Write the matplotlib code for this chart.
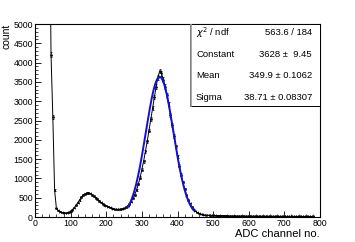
import numpy as np
import matplotlib.pyplot as plt
from matplotlib.patches import Rectangle

plt.rcParams['font.family'] = ['Liberation Sans', 'DejaVu Sans']

# histogram bin centres (ADC channel) and counts
channels = list(range(40, 805, 5))
counts = [
    9000, 4200, 2600, 700, 230, 170, 140, 120, 110, 105,
    110, 125, 150, 190, 240, 300, 370, 440, 510, 560,
    600, 620, 630, 610, 580, 540, 500, 460, 420, 380,
    340, 310, 290, 270, 250, 230, 215, 205, 200, 200,
    205, 215, 230, 255, 290, 340, 400, 480, 580, 700,
    850, 1020, 1230, 1450, 1700, 1960, 2240, 2530, 2820, 3100,
    3380, 3620, 3780, 3720, 3560, 3380, 3150, 2920, 2650, 2380,
    2100, 1830, 1570, 1330, 1100, 900, 730, 580, 450, 350,
    270, 200, 155, 120, 95, 78, 65, 56, 50, 46,
    44, 42, 40, 39, 38, 37, 36, 35, 35, 34,
    33, 33, 32, 31, 31, 30, 30, 29, 28, 28,
    27, 27, 26, 26, 25, 25, 24, 24, 23, 23,
    22, 22, 22, 21, 21, 20, 20, 20, 19, 19,
    19, 18, 18, 18, 17, 17, 17, 16, 16, 16,
    16, 15, 15, 15, 15, 14, 14, 14, 14,
]
channels = channels[:len(counts)]

# gaussian fit result
fit_const = 3628.0
fit_mean = 349.9
fit_sigma = 38.71
fit_range = (260, 445)

stat_names = ["$\\chi^{2}$ / ndf", "Constant", "Mean", "Sigma"]
stat_values = ["563.6 / 184", "3628 \u00b1  9.45", "349.9 \u00b1 0.1062", "38.71 \u00b1 0.08307"]

x = np.array(channels, dtype=float)
y = np.array(counts, dtype=float)

fig = plt.figure(figsize=(3.55, 2.42), dpi=100)
ax = fig.add_axes([0.0986, 0.1033, 0.8028, 0.7975])

ax.plot(x, y, color='black', lw=0.7)
ax.errorbar(x, y, yerr=np.sqrt(y), xerr=2.5, fmt='none', ecolor='black',
            elinewidth=0.5, capsize=1.0, capthick=0.5)

xf = np.linspace(fit_range[0], fit_range[1], 300)
ax.plot(xf, fit_const * np.exp(-0.5 * ((xf - fit_mean) / fit_sigma) ** 2), color='#1010dd', lw=1.4)

ax.set_xlim(0, 800)
ax.set_ylim(0, 5000)
ax.set_xticks(np.arange(0, 801, 100))
ax.set_xticks(np.arange(0, 801, 20), minor=True)
ax.set_yticks(np.arange(0, 5001, 500))
ax.set_yticks(np.arange(0, 5001, 100), minor=True)
ax.tick_params(which='both', direction='in', top=False, right=False, labelsize=6.3, pad=1.5)
ax.tick_params(which='major', length=4, width=0.6)
ax.tick_params(which='minor', length=2, width=0.5)
for s in ax.spines.values():
    s.set_linewidth(0.8)

ax.set_xlabel("ADC channel no.", fontsize=8, loc='right', labelpad=1)
ax.set_ylabel("count", fontsize=7.5, loc='top', labelpad=1)

# stats box
box = Rectangle((0.544, 0.575), 0.456, 0.425, transform=ax.transAxes,
                facecolor='white', edgecolor='black', lw=0.7, zorder=5)
ax.add_patch(box)
ax.plot([0.546, 0.546], [0.575, 1.0], transform=ax.transAxes, color='#999999', lw=1.2, zorder=6)
rows_y = [0.955, 0.843, 0.731, 0.619]
for name, val, yy in zip(stat_names, stat_values, rows_y):
    ax.text(0.565, yy, name, transform=ax.transAxes, fontsize=6.8, va='center', ha='left', zorder=7)
    ax.text(0.972, yy, val, transform=ax.transAxes, fontsize=6.8, va='center', ha='right', zorder=7)

fig.savefig("out.png", dpi=100)
